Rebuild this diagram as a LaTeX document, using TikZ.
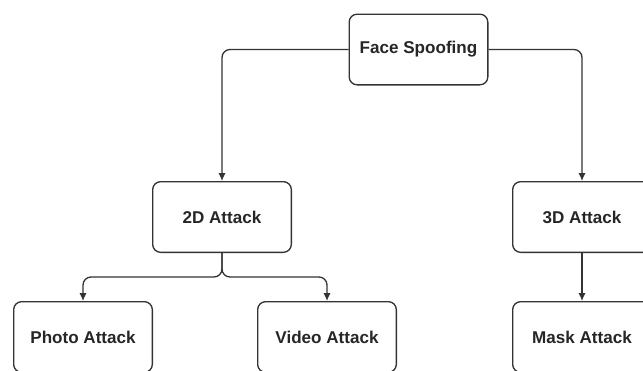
\documentclass[tikz,border=0pt]{standalone}
\usepackage{fontspec}
\setmainfont{Liberation Sans}
\usetikzlibrary{arrows.meta}

\begin{document}
\begin{tikzpicture}[x=0.75pt,y=-0.75pt]
\tikzstyle{main}=[rectangle, rounded corners=6pt, minimum width=104pt, minimum height=53pt, line width=1pt, draw=black!80, fill=white, text=black!85, font=\bfseries\fontsize{12.8}{15}\selectfont]
\tikzstyle{connect}=[-{Latex[length=6pt,width=5.5pt]}, line width=1pt, draw=black!80, rounded corners=6pt]

\useasboundingbox (0,0) rectangle (643,371);
\node[main] at (418.5,49.5) (face) {Face Spoofing};
\node[main] at (222,217) (att2d) {2D Attack};
\node[main] at (582,217) (att3d) {3D Attack};
\node[main] at (83,337) (photo) {Photo Attack};
\node[main] at (327,337) (video) {Video Attack};
\node[main] at (582,337) (mask) {Mask Attack};
\coordinate (split) at (222,277);
\draw[connect] (face.west) -| (att2d.north);
\draw[connect] (face.east) -| (att3d.north);
\draw[connect] (att2d.south) -- (split) -| (photo.north);
\draw[connect] (att2d.south) -- (split) -| (video.north);
\draw[connect] (att3d) -- (mask);
\end{tikzpicture}
\end{document}
